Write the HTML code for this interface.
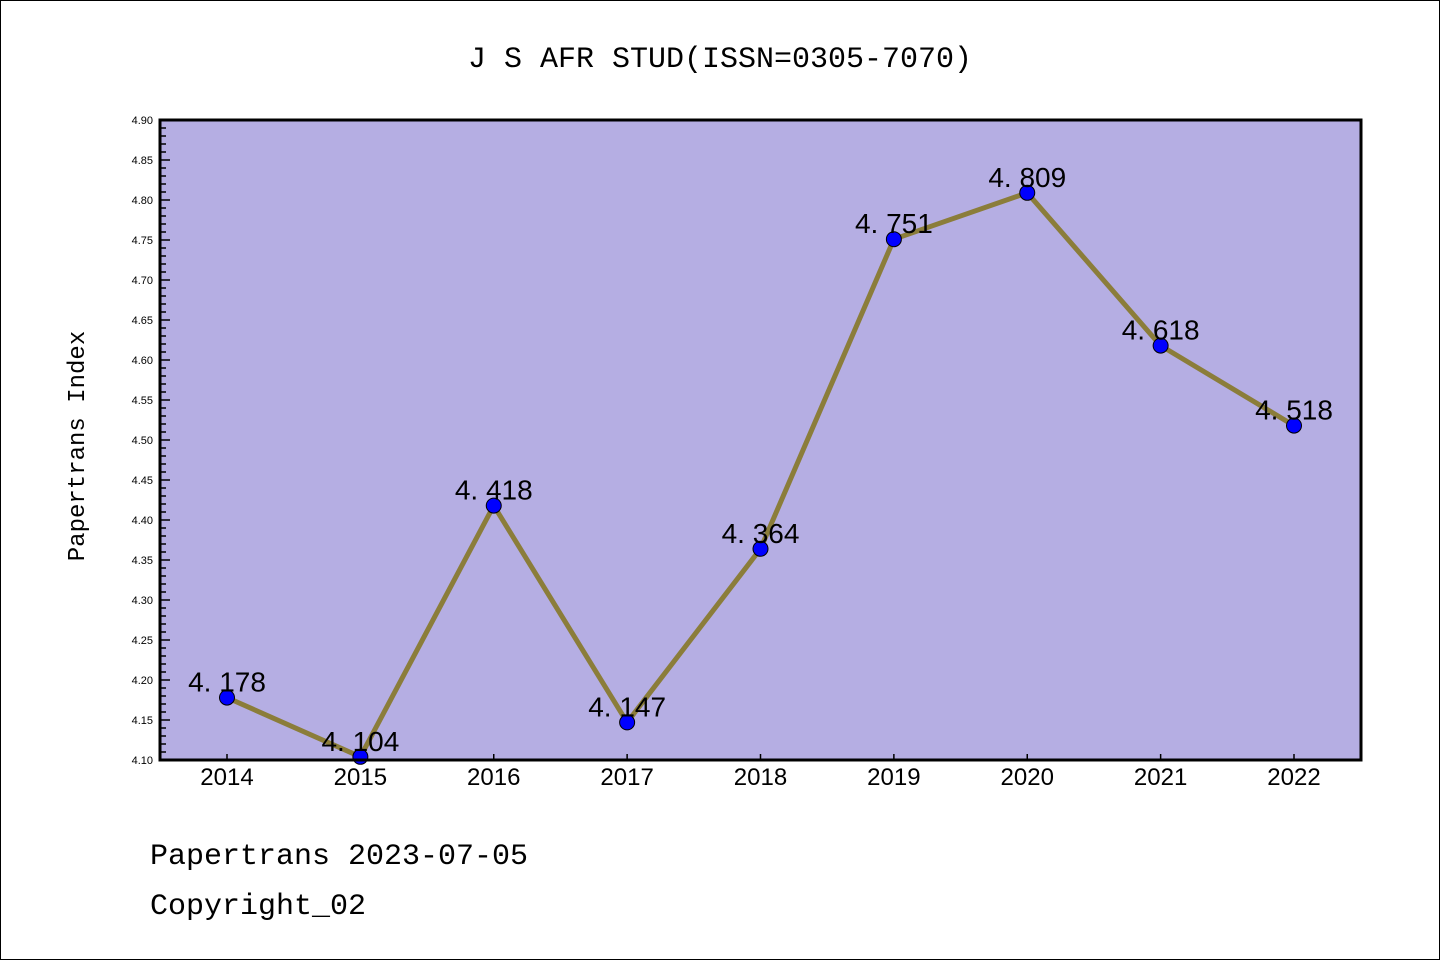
<!DOCTYPE html>
<html><head><meta charset="utf-8"><style>
body{margin:0;background:#fff}
svg{display:block}
text{font-family:"Liberation Sans","Noto Sans CJK SC",sans-serif;fill:#000}
</style></head><body>
<svg id="chart" width="1440" height="960" xmlns="http://www.w3.org/2000/svg">
<rect x="0.5" y="0.5" width="1439" height="959" fill="#fff" stroke="#000"/>
<text x="720" y="67" font-size="30" text-anchor="middle" style="font-family:'Liberation Mono','Noto Sans CJK SC',monospace">J S AFR STUD(ISSN=0305-7070)</text>
<rect x="160" y="120" width="1201" height="640" fill="#b5aee3"/>
<g id="yticks"></g>
<g id="xticks"></g>
<g id="series"></g>
<rect x="160" y="120" width="1201" height="640" fill="none" stroke="#000" stroke-width="3"/>
<text transform="translate(84,446) rotate(-90)" font-size="24" text-anchor="middle" style="font-family:'Liberation Mono','Noto Sans CJK SC',monospace">Papertrans Index</text>
<text x="150" y="864" font-size="30" style="font-family:'Liberation Mono','Noto Sans CJK SC',monospace">Papertrans 2023-07-05</text>
<text x="150" y="914" font-size="30" style="font-family:'Liberation Mono','Noto Sans CJK SC',monospace">Copyright_02</text>
</svg>
<script>
const categories=["2014","2015","2016","2017","2018","2019","2020","2021","2022"];
const values=[4.178,4.104,4.418,4.147,4.364,4.751,4.809,4.618,4.518];
const labels=["4. 178","4. 104","4. 418","4. 147","4. 364","4. 751","4. 809","4. 618","4. 518"];
const yTicks=["4.10","4.15","4.20","4.25","4.30","4.35","4.40","4.45","4.50","4.55","4.60","4.65","4.70","4.75","4.80","4.85","4.90"];
const yMin=4.10,yMax=4.90;
const NS="http://www.w3.org/2000/svg";
function y(v){return 760-(v-yMin)/(yMax-yMin)*640;}
function x(i){return 227+i*(1294-227)/(categories.length-1);}
function mk(t,a,p){const e=document.createElementNS(NS,t);for(const k in a)e.setAttribute(k,a[k]);p.appendChild(e);return e;}
const yg=document.getElementById('yticks'),xg=document.getElementById('xticks'),sg=document.getElementById('series');
for(let k=0;k<=80;k++){const v=yMin+k*0.01;const yy=y(v);const major=k%5===0;
 const l=mk('line',{x1:160,x2:major?170:166,y1:yy,y2:yy,stroke:'#000','stroke-width':1.5},yg);
 }
yTicks.forEach(s=>{const t=mk('text',{x:153,y:y(parseFloat(s))+4,'font-size':11,'text-anchor':'end'},yg);t.textContent=s;
 });
categories.forEach((c,i)=>{const l=mk('line',{x1:x(i),x2:x(i),y1:760,y2:754,stroke:'#000','stroke-width':1.5},xg);
 
 const t=mk('text',{x:x(i),y:785,'font-size':24,'text-anchor':'middle'},xg);t.textContent=c;
 });
const pl=mk('polyline',{points:values.map((v,i)=>x(i)+','+y(v)).join(' '),fill:'none',stroke:'#8b7d3a','stroke-width':5},sg);

values.forEach((v,i)=>{const c=mk('circle',{cx:x(i),cy:y(v),r:7.5,fill:'#0000ff',stroke:'#000','stroke-width':1},sg);
 
 const t=mk('text',{x:x(i),y:y(v)-6,'font-size':28,'text-anchor':'middle'},sg);t.textContent=labels[i];
 });
</script>
</body></html>
